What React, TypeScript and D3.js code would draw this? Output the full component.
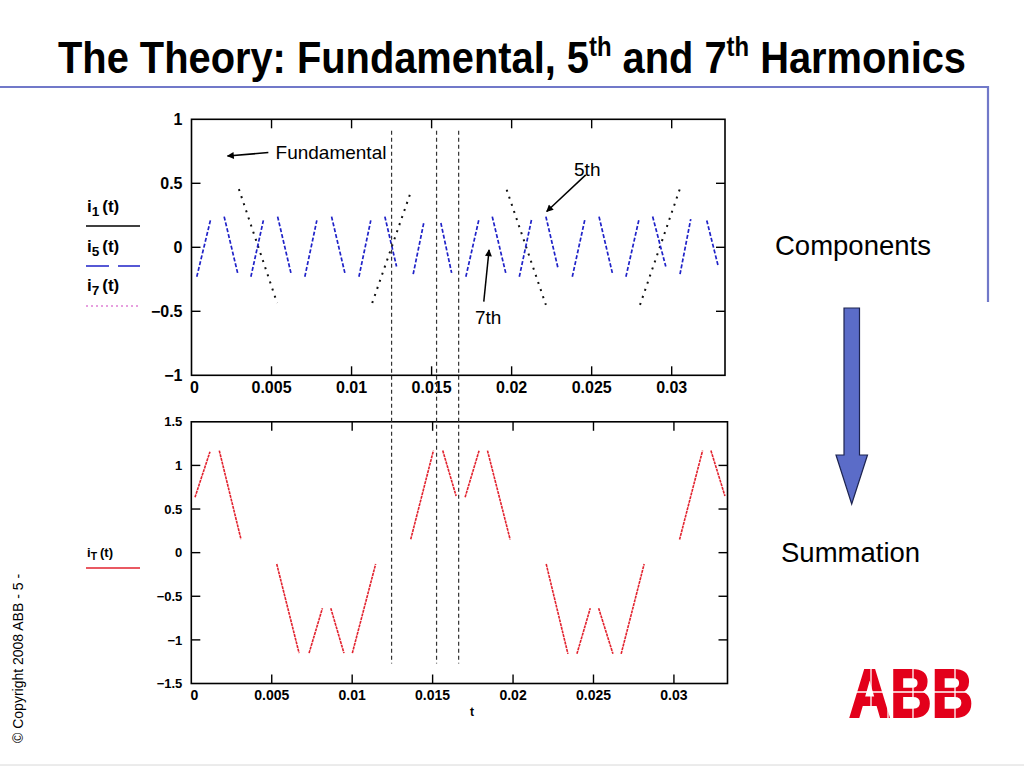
import React, { useRef, useEffect } from 'react';
import * as d3 from 'd3';

// segments: [t0, v0, t1, v1]
const fundamentalSegs = [
  [0.00296, 0.455, 0.00535, -0.435],
  [0.01129, -0.435, 0.01375, 0.45],
  [0.01969, 0.45, 0.02214, -0.45],
  [0.02802, -0.45, 0.03052, 0.46],
];

const fifthRiseSegs = [
  [0.00033, -0.23, 0.00118, 0.21],
  [0.00371, -0.23, 0.00449, 0.21],
  [0.00708, -0.23, 0.00783, 0.21],
  [0.01046, -0.23, 0.0112, 0.21],
  [0.01385, -0.21, 0.01451, 0.19],
  [0.01714, -0.23, 0.01796, 0.22],
  [0.02048, -0.23, 0.02125, 0.22],
  [0.02379, -0.23, 0.02458, 0.22],
  [0.02714, -0.23, 0.02796, 0.22],
  [0.03052, -0.21, 0.03119, 0.22],
];

const fifthFallSegs = [
  [0.00204, 0.24, 0.00288, -0.2],
  [0.00538, 0.24, 0.00621, -0.2],
  [0.00875, 0.24, 0.00958, -0.2],
  [0.01208, 0.24, 0.01281, -0.15],
  [0.01558, 0.19, 0.01625, -0.2],
  [0.01879, 0.24, 0.01963, -0.2],
  [0.02214, 0.24, 0.02291, -0.17],
  [0.02546, 0.24, 0.02629, -0.2],
  [0.02881, 0.24, 0.02963, -0.15],
  [0.03219, 0.21, 0.03291, -0.15],
];

const totalSegs = [
  [0.00023, 0.635, 0.00116, 1.157],
  [0.00174, 1.17, 0.00309, 0.153],
  [0.00531, -0.13, 0.0067, -1.152],
  [0.00732, -1.152, 0.00815, -0.637],
  [0.00867, -0.637, 0.00949, -1.152],
  [0.01001, -1.152, 0.01146, -0.13],
  [0.01364, 0.153, 0.01505, 1.17],
  [0.01563, 1.17, 0.01646, 0.65],
  [0.01702, 0.635, 0.01789, 1.17],
  [0.01841, 1.17, 0.01982, 0.15],
  [0.02206, -0.13, 0.02341, -1.16],
  [0.02397, -1.16, 0.0248, -0.637],
  [0.02532, -0.637, 0.02621, -1.16],
  [0.02672, -1.16, 0.02815, -0.13],
  [0.03035, 0.15, 0.03178, 1.17],
  [0.0323, 1.17, 0.03317, 0.65],
];

const markerTimes = [0.0125, 0.01531, 0.01669];

const xTicks = [0, 0.005, 0.01, 0.015, 0.02, 0.025, 0.03];
const xTickLabels = ['0', '0.005', '0.01', '0.015', '0.02', '0.025', '0.03'];
const topYTicks = [1, 0.5, 0, -0.5, -1];
const topYLabels = ['1', '0.5', '0', '\u22120.5', '\u22121'];
const botYTicks = [1.5, 1, 0.5, 0, -0.5, -1, -1.5];
const botYLabels = ['1.5', '1', '0.5', '0', '\u22120.5', '\u22121', '\u22121.5'];

const W = 1024;
const H = 768;
const tMax = 0.03333;

const App: React.FC = () => {
  const svgRef = useRef<SVGSVGElement>(null);

  useEffect(() => {
    if (!svgRef.current) return;
    const svg = d3.select(svgRef.current);
    svg.selectAll('*').remove();

    const sans = 'Liberation Sans, Arial, Helvetica, sans-serif';

    svg.append('rect').attr('width', W).attr('height', H).attr('fill', '#fff');

    // Title (condensed look via horizontal scale)
    const title = svg
      .append('text')
      .attr('transform', 'translate(512,73) scale(0.885,1)')
      .attr('text-anchor', 'middle')
      .attr('font-family', sans)
      .attr('font-weight', 'bold')
      .attr('font-size', 45)
      .attr('fill', '#000');
    title.append('tspan').text('The Theory: Fundamental, 5');
    title.append('tspan').attr('dy', -17).attr('font-size', 27).text('th');
    title.append('tspan').attr('dy', 17).text(' and 7');
    title.append('tspan').attr('dy', -17).attr('font-size', 27).text('th');
    title.append('tspan').attr('dy', 17).text(' Harmonics');

    // blue rule
    svg
      .append('path')
      .attr('d', 'M0,87 H988 V302')
      .attr('fill', 'none')
      .attr('stroke', '#7179c9')
      .attr('stroke-width', 2.2);

    // scales
    const xTop = d3.scaleLinear().domain([0, tMax]).range([191.5, 725]);
    const yTop = d3.scaleLinear().domain([-1, 1]).range([375.3, 119.3]);
    const xBot = d3.scaleLinear().domain([0, tMax]).range([191.3, 727.5]);
    const yBot = d3.scaleLinear().domain([-1.5, 1.5]).range([683.5, 421.8]);

    const drawFrame = (
      x: d3.ScaleLinear<number, number>,
      y: d3.ScaleLinear<number, number>,
      yTicks: number[],
      yLabels: string[],
      xFont: number,
      yFont: number
    ) => {
      const [x0, x1] = x.range();
      const [y0, y1] = y.range();
      const g = svg.append('g');
      g.append('rect')
        .attr('x', x0)
        .attr('y', y1)
        .attr('width', x1 - x0)
        .attr('height', y0 - y1)
        .attr('fill', 'none')
        .attr('stroke', '#000')
        .attr('stroke-width', 1.6);
      const tl = 9;
      xTicks.forEach((t, i) => {
        const px = x(t);
        if (i > 0) {
          g.append('line').attr('x1', px).attr('x2', px).attr('y1', y0).attr('y2', y0 - tl)
            .attr('stroke', '#000').attr('stroke-width', 1.4);
          g.append('line').attr('x1', px).attr('x2', px).attr('y1', y1).attr('y2', y1 + tl)
            .attr('stroke', '#000').attr('stroke-width', 1.4);
        }
        g.append('text')
          .attr('x', px + (i === 0 ? 3 : 0))
          .attr('y', y0 + xFont + 2)
          .attr('text-anchor', 'middle')
          .attr('font-family', sans)
          .attr('font-weight', 'bold')
          .attr('font-size', xFont)
          .text(xTickLabels[i]);
      });
      yTicks.forEach((v, i) => {
        const py = y(v);
        if (v !== y.domain()[0] && v !== y.domain()[1]) {
          g.append('line').attr('x1', x0).attr('x2', x0 + tl).attr('y1', py).attr('y2', py)
            .attr('stroke', '#000').attr('stroke-width', 1.4);
          g.append('line').attr('x1', x1).attr('x2', x1 - tl).attr('y1', py).attr('y2', py)
            .attr('stroke', '#000').attr('stroke-width', 1.4);
        }
        g.append('text')
          .attr('x', x0 - 9)
          .attr('y', py + yFont * 0.36)
          .attr('text-anchor', 'end')
          .attr('font-family', sans)
          .attr('font-weight', 'bold')
          .attr('font-size', yFont)
          .text(yLabels[i]);
      });
    };

    drawFrame(xTop, yTop, topYTicks, topYLabels, 16, 16);
    drawFrame(xBot, yBot, botYTicks, botYLabels, 14, 13);

    const drawSegs = (
      segs: number[][],
      x: d3.ScaleLinear<number, number>,
      y: d3.ScaleLinear<number, number>,
      color: string,
      width: number,
      dash: string
    ) => {
      svg
        .append('g')
        .selectAll('line')
        .data(segs)
        .enter()
        .append('line')
        .attr('x1', (d) => x(d[0]))
        .attr('y1', (d) => y(d[1]))
        .attr('x2', (d) => x(d[2]))
        .attr('y2', (d) => y(d[3]))
        .attr('stroke', color)
        .attr('stroke-width', width)
        .attr('stroke-dasharray', dash)
        .attr('stroke-linecap', 'butt');
    };

    drawSegs(fundamentalSegs, xTop, yTop, '#111', 2, '2,5.5');
    drawSegs(fifthRiseSegs, xTop, yTop, '#1f22c8', 1.7, '4,2');
    drawSegs(fifthFallSegs, xTop, yTop, '#1f22c8', 1.7, '4,2');
    drawSegs(totalSegs, xBot, yBot, '#e2222e', 1.6, '3,0.8');

    // vertical dashed markers spanning both plots
    svg
      .append('g')
      .selectAll('line')
      .data(markerTimes)
      .enter()
      .append('line')
      .attr('x1', (d) => xTop(d))
      .attr('x2', (d) => xTop(d))
      .attr('y1', yTop(0.91))
      .attr('y2', yBot(-1.27))
      .attr('stroke', '#333')
      .attr('stroke-width', 1.2)
      .attr('stroke-dasharray', '4,3');

    // annotations
    const defs = svg.append('defs');
    defs
      .append('marker')
      .attr('id', 'ah')
      .attr('viewBox', '0 0 10 10')
      .attr('refX', 9)
      .attr('refY', 5)
      .attr('markerWidth', 9)
      .attr('markerHeight', 7)
      .attr('markerUnits', 'userSpaceOnUse')
      .attr('orient', 'auto')
      .append('path')
      .attr('d', 'M0,0 L10,5 L0,10 z')
      .attr('fill', '#000');

    const annotations = [
      { label: 'Fundamental', tx: 0.00525, ty: 0.69, from: [0.0048, 0.74], to: [0.00225, 0.713] },
      { label: '5th', tx: 0.0239, ty: 0.56, from: [0.02463, 0.566], to: [0.02219, 0.28] },
      { label: '7th', tx: 0.01771, ty: -0.6, from: [0.01826, -0.425], to: [0.01859, -0.02] },
    ];
    annotations.forEach((a) => {
      svg
        .append('line')
        .attr('x1', xTop(a.from[0]))
        .attr('y1', yTop(a.from[1]))
        .attr('x2', xTop(a.to[0]))
        .attr('y2', yTop(a.to[1]))
        .attr('stroke', '#000')
        .attr('stroke-width', 1.5)
        .attr('marker-end', 'url(#ah)');
      svg
        .append('text')
        .attr('x', xTop(a.tx))
        .attr('y', yTop(a.ty))
        .attr('font-family', sans)
        .attr('font-size', 19)
        .text(a.label);
    });

    // legend
    const legendText = (y: number, sub: string, size: number) => {
      const t = svg
        .append('text')
        .attr('x', 87)
        .attr('y', y)
        .attr('font-family', sans)
        .attr('font-weight', 'bold')
        .attr('font-size', size);
      t.append('tspan').text('i');
      t.append('tspan').attr('dy', size * 0.25).attr('font-size', size * 0.8).text(sub);
      t.append('tspan').attr('dy', -size * 0.25).attr('dx', 3).text('(t)');
    };
    legendText(212, '1', 17);
    svg.append('line').attr('x1', 86).attr('x2', 140).attr('y1', 226).attr('y2', 226)
      .attr('stroke', '#000').attr('stroke-width', 1.3);
    legendText(252, '5', 17);
    svg.append('line').attr('x1', 86).attr('x2', 140).attr('y1', 266).attr('y2', 266)
      .attr('stroke', '#1f22c8').attr('stroke-width', 1.5).attr('stroke-dasharray', '23,9');
    legendText(291, '7', 17);
    svg.append('line').attr('x1', 86).attr('x2', 140).attr('y1', 306).attr('y2', 306)
      .attr('stroke', '#d040c0').attr('stroke-width', 1.2).attr('stroke-dasharray', '2,3');
    legendText(557, 'T', 13);
    svg.append('line').attr('x1', 86).attr('x2', 140).attr('y1', 568).attr('y2', 568)
      .attr('stroke', '#e2222e').attr('stroke-width', 1.3);

    // x label lower
    svg.append('text').attr('x', 472).attr('y', 716).attr('text-anchor', 'middle')
      .attr('font-family', sans).attr('font-weight', 'bold').attr('font-size', 12).text('t');

    // right side texts
    svg.append('text').attr('x', 775).attr('y', 255).attr('font-family', sans)
      .attr('font-size', 27.5).text('Components');
    svg.append('text').attr('x', 781).attr('y', 562).attr('font-family', sans)
      .attr('font-size', 27.5).text('Summation');

    // down arrow
    svg
      .append('path')
      .attr('d', 'M844,308 H859.5 V455 H867.5 L851.7,504 L836,455 H844 Z')
      .attr('fill', '#5b6cc8')
      .attr('stroke', '#1d2450')
      .attr('stroke-width', 1.2);

    // ABB logo
    svg
      .append('text')
      .attr('x', 849)
      .attr('y', 717)
      .attr('font-family', 'Liberation Sans, Arial, sans-serif')
      .attr('font-weight', 900)
      .attr('font-size', 68)
      .attr('textLength', 124)
      .attr('lengthAdjust', 'spacingAndGlyphs')
      .attr('fill', '#e3001b')
      .attr('stroke', '#e3001b')
      .attr('stroke-width', 2)
      .text('ABB');
    svg.append('line').attr('x1', 846).attr('x2', 976).attr('y1', 692).attr('y2', 692)
      .attr('stroke', '#fff').attr('stroke-width', 1.5);
    [871, 888, 913, 933, 955].forEach((vx) => {
      svg.append('line').attr('x1', vx).attr('x2', vx).attr('y1', 665).attr('y2', 720)
        .attr('stroke', '#fff').attr('stroke-width', 1.3);
    });

    // copyright
    svg
      .append('text')
      .attr('transform', 'translate(23,743) rotate(-90)')
      .attr('font-family', sans)
      .attr('font-size', 14)
      .text('\u00A9 Copyright 2008 ABB - 5 -');

    // bottom rule
    svg.append('line').attr('x1', 0).attr('x2', W).attr('y1', 765).attr('y2', 765)
      .attr('stroke', '#d8d8d8').attr('stroke-width', 1);
  }, []);

  return (
    <div style={{ position: 'absolute', left: 0, top: 0 }}>
      <svg ref={svgRef} width={W} height={H} />
    </div>
  );
};

export default App;
